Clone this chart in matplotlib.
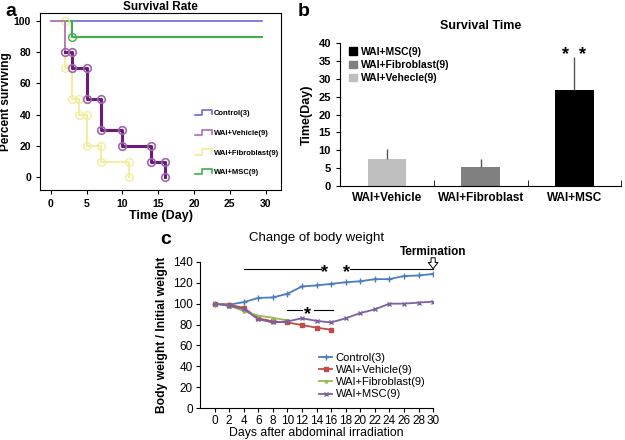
import matplotlib
matplotlib.use('Agg')
import matplotlib.pyplot as plt
from matplotlib.lines import Line2D
from matplotlib.patches import Patch

plt.rcParams['font.family'] = ['Liberation Sans', 'DejaVu Sans']

# ---- panel a: survival rate (Kaplan-Meier steps) ----
ctrl_t = [0, 29.5]
ctrl_s = [100, 100]
msc_t = [0, 3, 29.5]
msc_s = [100, 90, 90]
veh_t = [0, 2, 3, 5, 7, 10, 14, 16]
veh_s = [100, 80, 70, 50, 30, 20, 10, 0]
fib_t = [0, 2, 3, 4, 5, 7, 11]
fib_s = [100, 70, 50, 40, 20, 10, 0]

# ---- panel b: survival time ----
groups = ['WAI+Vehicle', 'WAI+Fibroblast', 'WAI+MSC']
mean_days = [7.6, 5.3, 27.0]
err_days = [2.7, 2.4, 9.0]
bar_labels = ['WAI+Vehecle(9)', 'WAI+Fibroblast(9)', 'WAI+MSC(9)']
bar_colors = ['#bfbfbf', '#808080', '#000000']

# ---- panel c: body weight ----
days = list(range(0, 31, 2))
w_ctrl = [100, 99, 101.5, 105.5, 106, 109.5, 116.5, 117.5, 119, 120.5, 121.5, 123.5, 123.5, 126.5, 127, 128.5]
w_veh = [100, 99, 96, 86, 83, 82, 79.5, 77, 75]
w_fib = [100, 98, 93, 88.5, 86.5, 84]
w_msc = [100, 98, 95, 85, 82, 83, 86, 83.5, 82, 86, 91, 94.5, 100, 100, 101, 102]


def step_xy(t, s):
    xs, ys = [t[0]], [s[0]]
    for i in range(1, len(t)):
        xs += [t[i], t[i]]
        ys += [s[i - 1], s[i]]
    return xs, ys


class StepHandler:
    def legend_artist(self, legend, orig_handle, fontsize, handlebox):
        x0, y0 = handlebox.xdescent, handlebox.ydescent
        w, h = handlebox.width, handlebox.height
        ln = Line2D([x0, x0 + w * 0.45, x0 + w * 0.45, x0 + w, x0 + w],
                    [y0, y0, y0 + h, y0 + h, y0 + h * 0.2],
                    color=orig_handle.get_color(), lw=1.2,
                    transform=handlebox.get_transform())
        handlebox.add_artist(ln)
        return ln


fig = plt.figure(figsize=(6.25, 4.4), dpi=100)

# ---------------- a ----------------
ax1 = fig.add_axes([0.064, 0.568, 0.386, 0.402])
c_ctrl, c_veh, c_fib, c_msc = '#6a6ad8', '#6a1b7a', '#f3eda0', '#3cb04a'
ax1.plot(ctrl_t, ctrl_s, color=c_ctrl, lw=1.2)
x, y = step_xy(msc_t, msc_s)
ax1.plot(x, y, color=c_msc, lw=1.5)
ax1.plot([msc_t[1]], [msc_s[1]], 'o', mfc='none', mec=c_msc, ms=5.5)
x, y = step_xy(fib_t, fib_s)
ax1.plot(x, y, color=c_fib, lw=1.5)
ax1.plot(x[1:], y[1:], 'o', mfc='none', mec=c_fib, ms=5.5)
x, y = step_xy(veh_t, veh_s)
ax1.plot(x[:3], y[:3], color='#b06ab8', lw=1.2)
ax1.plot(x[2:], y[2:], color=c_veh, lw=2.2)
ax1.plot(x[2:], y[2:], 'o', mfc='none', mec='#a066b0', ms=5.5, mew=1.2)
ax1.set_xlim(-1.5, 32.2)
ax1.set_ylim(-8.3, 105)
ax1.set_xticks(range(0, 31, 5))
ax1.set_yticks(range(0, 101, 20))
ax1.tick_params(labelsize=7.5, length=3)
for t in ax1.get_xticklabels() + ax1.get_yticklabels():
    t.set_fontweight('bold')
ax1.set_xlabel('Time (Day)', fontsize=9, fontweight='bold', labelpad=1)
ax1.set_ylabel('Percent surviving', fontsize=8.5, fontweight='bold', labelpad=1)
ax1.set_title('Survival Rate', fontsize=8.5, fontweight='bold', pad=2)
hs = [Line2D([], [], color=c_ctrl), Line2D([], [], color='#b06ab8'),
      Line2D([], [], color=c_fib), Line2D([], [], color=c_msc)]
ax1.legend(hs, ['Control(3)', 'WAI+Vehicle(9)', 'WAI+Fibroblast(9)', 'WAI+MSC(9)'],
           handler_map={Line2D: StepHandler()}, loc='lower right',
           bbox_to_anchor=(1.02, 0.04), frameon=False,
           prop={'size': 5.5, 'weight': 'bold'}, labelspacing=1.6,
           handlelength=2.2, handletextpad=0.3)
fig.text(0.008, 0.975, 'a', fontsize=14, fontweight='bold', va='center')

# ---------------- b ----------------
ax2 = fig.add_axes([0.544, 0.577, 0.450, 0.325])
pos = range(len(groups))
ax2.bar(pos, mean_days, width=0.41, color=bar_colors, zorder=2)
ax2.errorbar(pos, mean_days, yerr=[[0, 0, 0], err_days], fmt='none',
             ecolor='#555555', elinewidth=1, capsize=0, zorder=3)
ax2.set_xlim(-0.5, 2.5)
ax2.set_ylim(0, 40)
ax2.set_yticks(range(0, 41, 5))
ax2.set_xticks(list(pos))
ax2.set_xticklabels(groups, fontsize=8.5, fontweight='bold')
ax2.set_xticks([-0.5, 0.5, 1.5, 2.5], minor=True)
ax2.tick_params(axis='x', which='major', length=0, pad=4)
ax2.tick_params(axis='x', which='minor', length=4, direction='in')
ax2.tick_params(axis='y', labelsize=8, length=3)
for t in ax2.get_yticklabels():
    t.set_fontweight('bold')
for s in ['top', 'right']:
    ax2.spines[s].set_visible(False)
ax2.set_ylabel('Time(Day)', fontsize=9, fontweight='bold')
ax2.set_title('Survival Time', fontsize=9, fontweight='bold', pad=10)
ax2.text(2, 36.5, '*  *', ha='center', va='center', fontsize=13, fontweight='bold')
ph = [Patch(color=bar_colors[2]), Patch(color=bar_colors[1]), Patch(color=bar_colors[0])]
ax2.legend(ph, bar_labels[::-1], loc='upper left', bbox_to_anchor=(0.0, 1.04),
           frameon=False, prop={'size': 7.5, 'weight': 'bold'},
           handlelength=0.7, handleheight=0.7, handletextpad=0.4, labelspacing=0.3)
fig.text(0.477, 0.975, 'b', fontsize=14, fontweight='bold', va='center')

# ---------------- c ----------------
ax3 = fig.add_axes([0.32, 0.0727, 0.373, 0.332])
ax3.plot(days, w_ctrl, color='#4a7ebb', marker='+', ms=4, lw=1.3, label='Control(3)')
ax3.plot(days[:len(w_veh)], w_veh, color='#be4b48', marker='s', ms=2.5, lw=1.3, label='WAI+Vehicle(9)')
ax3.plot(days[:len(w_fib)], w_fib, color='#98b954', marker='^', ms=2, lw=1.3, label='WAI+Fibroblast(9)')
ax3.plot(days, w_msc, color='#7d60a0', marker='x', ms=2.5, lw=1.3, label='WAI+MSC(9)')
ax3.set_xlim(-2, 30)
ax3.set_ylim(0, 140)
ax3.set_xticks(days)
ax3.set_yticks(range(0, 141, 20))
ax3.tick_params(labelsize=8.5, length=3, pad=2)
for s in ['top', 'right']:
    ax3.spines[s].set_visible(False)
ax3.set_xlabel('Days after abdominal irradiation', fontsize=8.8, labelpad=0)
ax3.set_ylabel('Body weight / Initial weight', fontsize=8.7, fontweight='bold')
ax3.set_title('Change of body weight', fontsize=9.5, pad=15)
ax3.plot([4, 14.6], [133, 133], color='black', lw=0.8, clip_on=False)
ax3.plot([18.6, 30], [133, 133], color='black', lw=0.8, clip_on=False)
ax3.text(16.6, 129, '*   *', ha='center', va='center', fontsize=13, fontweight='bold')
ax3.plot([10, 12], [94, 94], color='black', lw=0.8)
ax3.plot([13.6, 16.2], [94, 94], color='black', lw=0.8)
ax3.text(12.8, 90, '*', ha='center', va='center', fontsize=13, fontweight='bold')
ax3.annotate('', xy=(30, 133.5), xytext=(30, 144),
             arrowprops=dict(arrowstyle='simple,head_width=0.7,head_length=0.45,tail_width=0.3',
                             fc='white', ec='black', lw=0.7, shrinkA=0, shrinkB=0),
             annotation_clip=False)
ax3.text(30, 149.5, 'Termination', ha='center', va='center', fontsize=8.5, fontweight='bold')
ax3.legend(loc='lower right', bbox_to_anchor=(1.01, -0.01), frameon=False,
           fontsize=8, handlelength=1.2, handletextpad=0.3, labelspacing=0.2)
fig.text(0.256, 0.455, 'c', fontsize=14, fontweight='bold', va='center')

fig.savefig('out.png', dpi=100)
